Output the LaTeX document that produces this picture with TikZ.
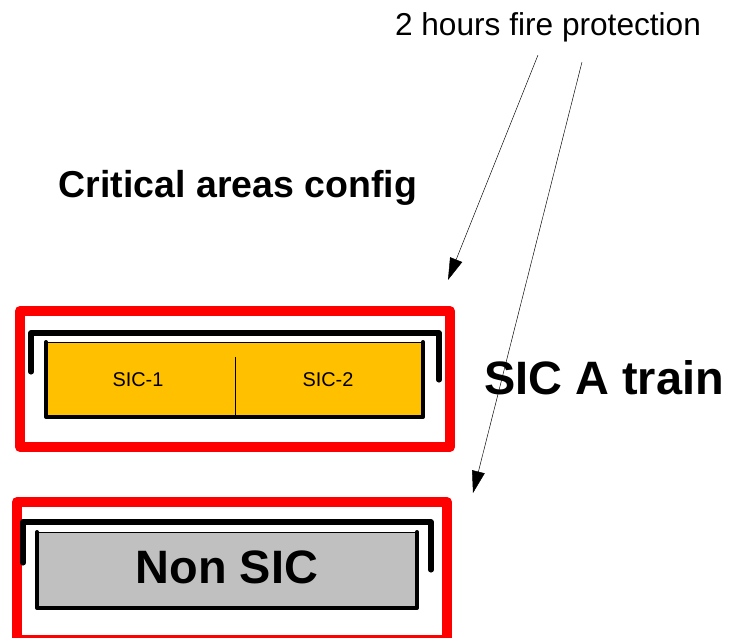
\documentclass[tikz,border=0pt]{standalone}
\usepackage{fontspec}
\setmainfont{Liberation Sans}
\usetikzlibrary{arrows.meta}

\definecolor{sicorange}{HTML}{FFC000}
\definecolor{nonsicgray}{HTML}{C0C0C0}

\begin{document}
\begin{tikzpicture}[
  x=0.03cm, y=-0.03cm,
  >={Triangle[length=22*0.03cm,width=13*0.03cm]},
  fire/.style={draw=red,line width=8.5pt,line join=round},
  bracket/.style={line width=4.3pt,line cap=round,line join=round},
  cabinet/.style={line width=3.4pt,line cap=round,line join=round},
  fl/.style={->,thin},
  lbl/.style={inner sep=0pt,font=\bfseries\fontsize{40}{40}\selectfont},
]
  \useasboundingbox (0,0) rectangle (729,637);

  % Coordonnees
  \coordinate (fA)  at (20,311);   % zone feu haut
  \coordinate (fB)  at (450,447);
  \coordinate (gA)  at (17,502);   % zone feu bas
  \coordinate (gB)  at (447,640);
  \coordinate (a1s) at (538,55);
  \coordinate (a1e) at (448,280);
  \coordinate (a2s) at (582,62);
  \coordinate (a2e) at (473,493);

  % Textes
  \node (title) at (238,188) {\bfseries\fontsize{32}{32}\selectfont Critical areas config};
  \node (prot)  at (548,27)  {\fontsize{27}{27}\selectfont 2 hours fire protection};
  \node[lbl] (train) at (604,378) {SIC A train};

  % Zones protegees (rouge)
  \draw[fire] (fA) rectangle (fB);
  \draw[fire] (gA) rectangle (gB);

  % Armoire SIC
  \fill[sicorange] (46,342) rectangle (423,417);
  \draw[thin] (46,342) -- (423,342);
  \draw[cabinet] (46,342) -- (46,417) -- (423,417) -- (423,342);
  \draw[thin] (235,357) -- (235,417);
  \node (sic1) at (138,380) {\fontsize{17}{17}\selectfont SIC-1};
  \node (sic2) at (328,380) {\fontsize{17}{17}\selectfont SIC-2};
  \draw[bracket] (31,372) -- (31,333) -- (439,333) -- (439,380);

  % Armoire non SIC
  \fill[nonsicgray] (37,532) rectangle (417,608);
  \draw[thin] (37,532) -- (417,532);
  \draw[cabinet] (37,532) -- (37,608) -- (417,608) -- (417,532);
  \node[lbl] (nonsic) at (227,567) {Non SIC};
  \draw[bracket] (23,563) -- (23,522) -- (431,522) -- (431,570);

  % Fleches
  \draw[fl] (a1s) -- (a1e);
  \draw[fl] (a2s) -- (a2e);
\end{tikzpicture}
\end{document}
